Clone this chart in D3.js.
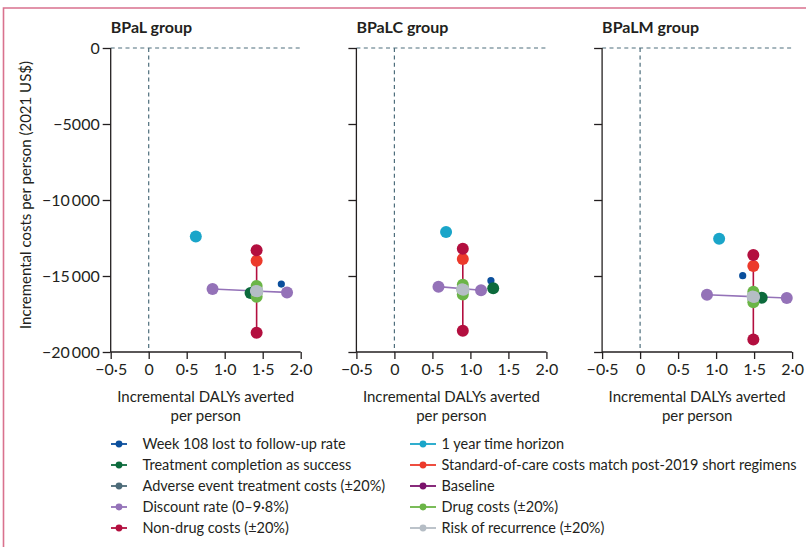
<!DOCTYPE html>
<html>
<head>
<meta charset="utf-8">
<script src="https://cdn.jsdelivr.net/npm/d3@7"></script>
<style>
  body { margin: 0; background: #fff; }
  svg { display: block; font-family: Lato, "Open Sans", sans-serif; }
</style>
</head>
<body>
<script>
// panels and series
var panels = ['BPaL group', 'BPaLC group', 'BPaLM group'];
var seriesNames = [
  'Week 108 lost to follow-up rate', 'Treatment completion as success',
  'Adverse event treatment costs (\u00b120%)', 'Discount rate (0\u20139\u00b78%)',
  'Non-drug costs (\u00b120%)', '1 year time horizon',
  'Standard-of-care costs match post-2019 short regimens', 'Baseline',
  'Drug costs (\u00b120%)', 'Risk of recurrence (\u00b120%)'
];
var seriesColors = ['#0b4f9c', '#0c6a3c', '#4c6a78', '#9472b8', '#b30f3f',
  '#1aa5c9', '#ec3a2b', '#7b136c', '#6bb547', '#b5bdc5'];

// per panel point lists [x, y] (x = DALYs averted, y = costs)
var week108 = [[[1.745, -15530]], [[1.27, -15310]], [[1.35, -14980]]];
var completion = [[[1.34, -16120]], [[1.30, -15810]], [[1.60, -16430]]];
var adverse = [[[1.42, -15900], [1.42, -16100]], [[0.90, -15800], [0.90, -15980]], [[1.49, -16280], [1.49, -16460]]];
var discount = [[[0.84, -15860], [1.82, -16080]], [[0.58, -15700], [1.14, -15940]], [[0.88, -16230], [1.93, -16450]]];
var nonDrug = [[[1.42, -13310], [1.42, -18730]], [[0.90, -13200], [0.90, -18600]], [[1.49, -13620], [1.49, -19170]]];
var horizon1 = [[[0.62, -12400]], [[0.68, -12100]], [[1.04, -12550]]];
var socCosts = [[[1.42, -13990]], [[0.90, -13880]], [[1.49, -14340]]];
var baseline = [[[1.42, -16000]], [[0.90, -15890]], [[1.49, -16370]]];
var drug = [[[1.42, -15660], [1.42, -16360]], [[0.90, -15570], [0.90, -16210]], [[1.49, -16030], [1.49, -16730]]];
var recurrence = [[[1.41, -15980], [1.43, -16010]], [[0.89, -15870], [0.91, -15900]], [[1.48, -16350], [1.50, -16380]]];

var seriesData = [week108, completion, adverse, discount, nonDrug, horizon1, socCosts, baseline, drug, recurrence];
// draw order: grey on top, green drug over dark green
var drawOrder = [0, 5, 1, 6, 2, 7, 3, 4, 8, 9];

var xTicks = [-0.5, 0, 0.5, 1, 1.5, 2];
var yTicks = [0, -5000, -10000, -15000, -20000];

var width = 806, height = 547;
var svg = d3.select('body').append('svg').attr('width', width).attr('height', height);

// frame
svg.append('path')
  .attr('d', 'M3.5,547V8H806')
  .style('fill', 'none')
  .style('stroke', '#d9728e')
  .style('stroke-width', 1.6);

var panelW = 190, plotTop = 48, plotBottom = 352;
var x = d3.scaleLinear().domain([-0.5, 2]).range([0, panelW]);
var y = d3.scaleLinear().domain([-20000, 0]).range([plotBottom, plotTop]);

function fmtX(d) {
  if (d === 0) return '0';
  return d3.format('.1f')(d).replace('-', '\u2212').replace('.', '\u00b7');
}
function fmtY(d) {
  if (d === 0) return '0';
  var s = Math.abs(d) >= 10000 ? d3.format(',')(Math.abs(d)).replace(',', '\u2009') : String(Math.abs(d));
  return '\u2212' + s;
}

panels.forEach(function(name, i) {
  var g = svg.append('g').attr('transform', 'translate(' + (110.7 + i * 245.7) + ',0)');

  g.append('text')
    .attr('x', 0)
    .attr('y', 33)
    .style('font-weight', 'bold')
    .style('font-size', '16px')
    .style('fill', '#231f20')
    .text(name);

  // reference dashed lines
  g.append('line')
    .attr('x1', 0).attr('x2', panelW)
    .attr('y1', y(0)).attr('y2', y(0))
    .style('stroke', '#4e6e7c').style('stroke-width', 1.2)
    .style('stroke-dasharray', '4,3.4');
  g.append('line')
    .attr('x1', x(0)).attr('x2', x(0))
    .attr('y1', y(0)).attr('y2', plotBottom)
    .style('stroke', '#4e6e7c').style('stroke-width', 1.2)
    .style('stroke-dasharray', '4,3.4');

  var yAxis = d3.axisLeft(y).tickValues(yTicks).tickSize(8).tickPadding(3)
    .tickFormat(i === 0 ? fmtY : '');
  var ya = g.append('g').call(yAxis);
  var xAxis = d3.axisBottom(x).tickValues(xTicks).tickSize(7).tickPadding(5).tickFormat(fmtX);
  var xa = g.append('g').attr('transform', 'translate(0,' + plotBottom + ')').call(xAxis);

  [ya, xa].forEach(function(a) {
    a.select('.domain').style('stroke', '#231f20').style('stroke-width', 1.3);
    a.selectAll('.tick line').style('stroke', '#231f20').style('stroke-width', 1.3);
    a.selectAll('.tick text').style('font-size', '16px').style('fill', '#231f20')
      .style('font-family', 'Lato, sans-serif');
  });
  ya.select('.domain').attr('d', 'M0,' + plotTop + 'V' + plotBottom);
  xa.select('.domain').attr('d', 'M0,0H' + panelW);

  var title = g.append('text')
    .attr('text-anchor', 'middle')
    .style('font-size', '15px')
    .style('fill', '#231f20');
  title.append('tspan').attr('x', panelW / 2).attr('y', 402).text('Incremental DALYs averted');
  title.append('tspan').attr('x', panelW / 2).attr('y', 421).text('per person');

  // lines for ranged parameters
  drawOrder.forEach(function(s) {
    var pts = seriesData[s][i];
    if (pts.length > 1) {
      g.append('path')
        .attr('d', d3.line().x(function(d) { return x(d[0]); }).y(function(d) { return y(d[1]); })(pts))
        .style('fill', 'none')
        .style('stroke', seriesColors[s])
        .style('stroke-width', 1.6);
    }
  });
  drawOrder.forEach(function(s) {
    g.selectAll(null)
      .data(seriesData[s][i])
      .enter()
      .append('circle')
      .attr('cx', function(d) { return x(d[0]); })
      .attr('cy', function(d) { return y(d[1]); })
      .attr('r', s === 0 ? 3.6 : 6)
      .style('fill', seriesColors[s]);
  });
});

// y axis title
svg.append('text')
  .attr('transform', 'translate(31,195)rotate(-90)')
  .attr('text-anchor', 'middle')
  .style('font-size', '15px')
  .style('fill', '#231f20')
  .text('Incremental costs per person (2021 US$)');

// legend
var legend = svg.append('g');
seriesNames.forEach(function(name, s) {
  var col = Math.floor(s / 5), row = s % 5;
  var lx = col === 0 ? 111 : 410;
  var ly = 444 + row * 21;
  legend.append('line')
    .attr('x1', lx).attr('x2', lx + (col === 1 ? 26 : 16))
    .attr('y1', ly).attr('y2', ly)
    .style('stroke', seriesColors[s]).style('stroke-width', 1.8);
  legend.append('circle')
    .attr('cx', lx + (col === 1 ? 13 : 8)).attr('cy', ly).attr('r', 3.4)
    .style('fill', seriesColors[s]);
  legend.append('text')
    .attr('x', col === 0 ? 142.5 : 441.5)
    .attr('y', ly + 5)
    .style('font-size', '14.5px')
    .style('fill', '#231f20')
    .text(name);
});
</script>
</body>
</html>
